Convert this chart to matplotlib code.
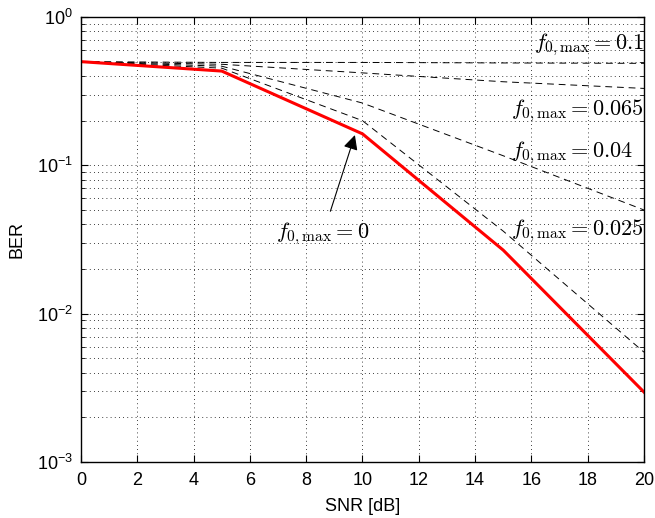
import matplotlib
matplotlib.use("Agg")
import matplotlib.pyplot as plt
import numpy as np

plt.rcParams['font.family'] = ['Liberation Sans', 'DejaVu Sans']
plt.rcParams['mathtext.fontset'] = 'custom'
plt.rcParams['mathtext.rm'] = 'Liberation Sans'
plt.rcParams['mathtext.it'] = 'Liberation Sans:italic'

snr = [0, 5, 10, 15, 20]
ber_f0 = [0.5, 0.432, 0.163, 0.0268, 0.00296]
ber_f025 = [0.5, 0.452, 0.200, 0.0360, 0.0055]
ber_f04 = [0.5, 0.466, 0.263, 0.116, 0.050]
ber_f065 = [0.5, 0.480, 0.420, 0.366, 0.330]
ber_f1 = [0.5, 0.494, 0.494, 0.490, 0.487]

xticks = list(range(0, 21, 2))
ytick_vals = [1e-3, 1e-2, 1e-1, 1e0]
ytick_labels = [r'$\mathrm{10^{-3}}$', r'$\mathrm{10^{-2}}$', r'$\mathrm{10^{-1}}$', r'$\mathrm{10^{0}}$']

fig = plt.figure(figsize=(6.55, 5.18), dpi=100)
ax = fig.add_axes([81/655, 56/518, 563/655, 445/518])

for ser in [ber_f025, ber_f04, ber_f065, ber_f1]:
    ax.semilogy(snr, ser, linestyle=(0, (7, 5)), color='k', lw=0.7)
ax.semilogy(snr, ber_f0, color='#ff0000', lw=2.2)

ax.set_xlim(0, 20)
ax.set_ylim(1e-3, 1)
ax.set_xticks(xticks)
ax.set_xticklabels([str(t) for t in xticks])
ax.set_yticks(ytick_vals)
ax.set_yticklabels(ytick_labels)
ax.tick_params(axis='both', which='both', direction='in', top=True, right=True, labelsize=13)
ax.tick_params(axis='x', which='major', pad=7)
ax.tick_params(axis='y', which='major', pad=6)
ax.tick_params(axis='both', which='major', length=5, width=0.8)
ax.tick_params(axis='y', which='minor', length=3, width=0.6)
ax.minorticks_on()
ax.xaxis.set_minor_locator(matplotlib.ticker.NullLocator())
ax.yaxis.set_minor_formatter(matplotlib.ticker.NullFormatter())
ax.grid(True, which='major', linestyle=(0, (1, 4)), color='k', lw=0.6)
ax.grid(True, which='minor', axis='y', linestyle=(0, (1, 4)), color='k', lw=0.6)
for s in ax.spines.values():
    s.set_linewidth(1.0)

ax.set_xlabel('SNR [dB]', fontsize=13, labelpad=7)
ax.set_ylabel('BER', fontsize=13, labelpad=8)

tk = dict(fontsize=16, math_fontfamily='cm')
ax.text(20, 0.647, r'$f_{0,\max} = 0.1$', ha='right', va='center', **tk)
ax.text(20, 0.232, r'$f_{0,\max} = 0.065$', ha='right', va='center', **tk)
ax.text(19.6, 0.121, r'$f_{0,\max} = 0.04$', ha='right', va='center', **tk)
ax.text(20, 0.036, r'$f_{0,\max} = 0.025$', ha='right', va='center', **tk)
ax.annotate(r'$f_{0,\max} = 0$', xy=(9.73, 0.16), xytext=(8.6, 0.0345),
            ha='center', va='center',
            arrowprops=dict(arrowstyle='-|>', mutation_scale=22, color='k', lw=0.8,
                            shrinkA=5, shrinkB=0),
            **tk)

fig.savefig('out.png', dpi=100)
